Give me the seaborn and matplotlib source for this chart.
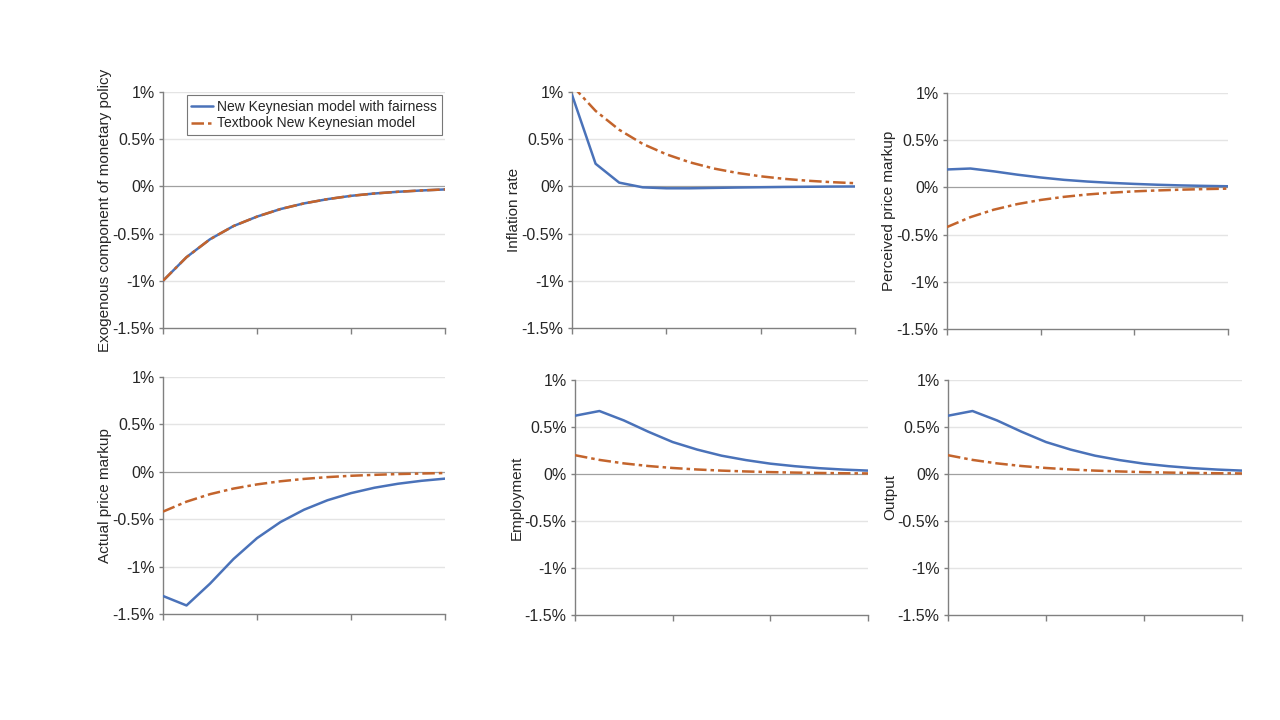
import numpy as np
import pandas as pd
import matplotlib.pyplot as plt
import seaborn as sns
from matplotlib.ticker import FixedLocator

# Perioden nach dem Schock
perioden = list(range(13))

# Exogene Komponente der Geldpolitik (beide Modelle identisch)
geldpolitik_fair = [-1.00, -0.75, -0.56, -0.42, -0.32, -0.24, -0.18, -0.135, -0.10, -0.075, -0.057, -0.043, -0.032]
geldpolitik_lehrbuch = [-1.00, -0.75, -0.56, -0.42, -0.32, -0.24, -0.18, -0.135, -0.10, -0.075, -0.057, -0.043, -0.032]

# Inflationsrate
inflation_fair = [0.97, 0.24, 0.04, -0.01, -0.02, -0.02, -0.016, -0.012, -0.009, -0.006, -0.004, -0.002, -0.001]
inflation_lehrbuch = [1.07, 0.80, 0.60, 0.45, 0.34, 0.255, 0.19, 0.143, 0.107, 0.08, 0.06, 0.045, 0.034]

# Wahrgenommener Preisaufschlag
wahrg_markup_fair = [0.19, 0.20, 0.17, 0.135, 0.105, 0.08, 0.062, 0.048, 0.037, 0.028, 0.021, 0.016, 0.012]
wahrg_markup_lehrbuch = [-0.42, -0.315, -0.236, -0.177, -0.133, -0.10, -0.075, -0.056, -0.042, -0.032, -0.024, -0.018, -0.013]

# Tatsächlicher Preisaufschlag
tats_markup_fair = [-1.31, -1.41, -1.18, -0.92, -0.70, -0.53, -0.40, -0.30, -0.225, -0.168, -0.126, -0.095, -0.072]
tats_markup_lehrbuch = [-0.42, -0.315, -0.236, -0.177, -0.133, -0.10, -0.075, -0.056, -0.042, -0.032, -0.024, -0.018, -0.013]

# Beschäftigung
beschaeftigung_fair = [0.62, 0.67, 0.57, 0.45, 0.34, 0.26, 0.195, 0.148, 0.11, 0.083, 0.062, 0.047, 0.036]
beschaeftigung_lehrbuch = [0.20, 0.15, 0.113, 0.085, 0.064, 0.048, 0.036, 0.027, 0.02, 0.015, 0.011, 0.008, 0.006]

# Output
output_fair = [0.62, 0.67, 0.57, 0.45, 0.34, 0.26, 0.195, 0.148, 0.11, 0.083, 0.062, 0.047, 0.036]
output_lehrbuch = [0.20, 0.15, 0.113, 0.085, 0.064, 0.048, 0.036, 0.027, 0.02, 0.015, 0.011, 0.008, 0.006]

y_ticks = [1.0, 0.5, 0.0, -0.5, -1.0, -1.5]
y_tick_labels = ['1%', '0.5%', '0%', '-0.5%', '-1%', '-1.5%']

label_fair = 'New Keynesian model with fairness'
label_lehrbuch = 'Textbook New Keynesian model'

sns.set_style('white')
plt.rcParams['font.family'] = ['Liberation Sans', 'DejaVu Sans']

blau = '#4A72B9'
orange = '#C3642C'

fig = plt.figure(figsize=(12.8, 7.2), dpi=100)

# Panels in Pixelkoordinaten (links, oben, rechts, unten)
panels = [
    ((163, 92, 445, 328), 'Exogenous component of monetary policy', geldpolitik_fair, geldpolitik_lehrbuch),
    ((572, 92, 855, 328), 'Inflation rate', inflation_fair, inflation_lehrbuch),
    ((947, 93, 1228, 329), 'Perceived price markup', wahrg_markup_fair, wahrg_markup_lehrbuch),
    ((163, 377, 445, 614), 'Actual price markup', tats_markup_fair, tats_markup_lehrbuch),
    ((575, 380, 868, 615), 'Employment', beschaeftigung_fair, beschaeftigung_lehrbuch),
    ((948, 380, 1242, 615), 'Output', output_fair, output_lehrbuch),
]

for i, ((l, t, r, b), ylabel, fair, lehrbuch) in enumerate(panels):
    ax = fig.add_axes([l / 1280, 1 - b / 720, (r - l) / 1280, (b - t) / 720])
    df = pd.DataFrame({'periode': perioden, 'fair': fair, 'lehrbuch': lehrbuch})

    # Gitterlinien und Nulllinie
    for y in y_ticks:
        if y == 0:
            ax.axhline(0, color='#A0A0A0', lw=0.9, zorder=1)
        elif y != -1.5:
            ax.axhline(y, color='#E4E4E4', lw=1.0, zorder=0)

    sns.lineplot(data=df, x='periode', y='fair', ax=ax, color=blau, lw=1.8,
                 label=label_fair, zorder=3)
    sns.lineplot(data=df, x='periode', y='lehrbuch', ax=ax, color=orange, lw=1.8,
                 dashes=False, label=label_lehrbuch, zorder=4)
    ax.lines[-1].set_dashes([5, 1.6, 1.4, 1.6])

    ax.set_xlim(0, 12)
    ax.set_ylim(-1.5, 1.0)
    ax.xaxis.set_major_locator(FixedLocator([0, 4, 8, 12]))
    ax.set_xticklabels([])
    ax.set_yticks(y_ticks)
    ax.set_yticklabels(y_tick_labels, fontsize=11.5)
    ax.tick_params(axis='x', direction='out', length=4, width=1, color='#808080', bottom=True)
    ax.tick_params(axis='y', direction='out', length=3, width=1, color='#808080', left=True, pad=3)
    ax.set_xlabel('')
    ax.set_ylabel(ylabel, fontsize=11, labelpad=0.5)

    for s in ['top', 'right']:
        ax.spines[s].set_visible(False)
    for s in ['left', 'bottom']:
        ax.spines[s].set_color('#808080')
        ax.spines[s].set_linewidth(1.0)

    if i == 0:
        leg = ax.legend(loc='upper right', fontsize=10, frameon=True, fancybox=False,
                        handlelength=1.6, borderpad=0.3, labelspacing=0.2,
                        handletextpad=0.3, borderaxespad=0.25)
        leg.get_frame().set_edgecolor('#555555')
        leg.get_frame().set_linewidth(0.8)
    else:
        ax.get_legend().remove()

plt.savefig('out.png', dpi=100)
plt.close()
